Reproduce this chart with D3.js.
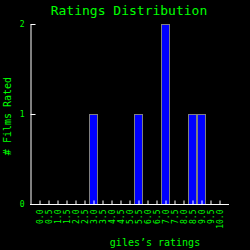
<!DOCTYPE html>
<html>
<head>
<meta charset="utf-8">
<script src="https://cdn.jsdelivr.net/npm/d3@7"></script>
<style>
  html, body { margin: 0; padding: 0; background: #000; }
  svg { display: block; }
  text { font-family: "DejaVu Sans Mono", monospace; fill: #00ff00; }
</style>
</head>
<body>
<div id="chart"></div>
<script>
// ratings on the x axis, counts per rating
var ratings = ['0.0', '0.5', '1.0', '1.5', '2.0', '2.5', '3.0', '3.5', '4.0', '4.5', '5.0',
               '5.5', '6.0', '6.5', '7.0', '7.5', '8.0', '8.5', '9.0', '9.5', '10.0'];
var counts = [0, 0, 0, 0, 0, 0, 1, 0, 0, 0, 0, 1, 0, 0, 2, 0, 0, 1, 1, 0, 0];
var yTicks = [0, 1, 2];

var width = 250, height = 250;

var svg = d3.select('#chart')
    .append('svg')
    .attr('width', width)
    .attr('height', height);

svg.append('rect')
    .attr('width', width)
    .attr('height', height)
    .attr('fill', '#000');

var x = d3.scalePoint()
    .domain(ratings)
    .range([39.5, 219.5]);

var y = d3.scaleLinear()
    .domain([0, 2])
    .range([204, 24]);

// title
svg.append('text')
    .attr('x', 129)
    .attr('y', 15)
    .attr('text-anchor', 'middle')
    .style('font-size', '13px')
    .text('Ratings Distribution');

// bars
svg.append('g')
    .selectAll('rect')
    .data(ratings.map((r, i) => ({ r: r, v: counts[i] })).filter(d => d.v > 0))
    .enter()
    .append('rect')
    .attr('x', d => x(d.r) - 4)
    .attr('y', d => y(d.v) + 0.5)
    .attr('width', 8)
    .attr('height', d => y(0) - y(d.v))
    .attr('fill', '#0000ff')
    .attr('stroke', '#808080')
    .attr('stroke-width', 1);

// x axis
var xAxis = svg.append('g')
    .attr('transform', 'translate(0,204.5)')
    .call(d3.axisBottom(x).tickSizeInner(-4).tickSizeOuter(0).tickPadding(0));
xAxis.select('.domain').remove();
xAxis.selectAll('.tick line').attr('stroke', '#fff');
xAxis.selectAll('.tick text')
    .attr('transform', 'rotate(-90)')
    .attr('text-anchor', 'end')
    .attr('x', -5)
    .attr('y', 0)
    .attr('dy', '0.35em')
    .attr('fill', '#00ff00')
    .style('font-size', '8px')
    .style('font-family', '"DejaVu Sans Mono", monospace');

svg.append('line')
    .attr('x1', 30).attr('x2', 229)
    .attr('y1', 204.5).attr('y2', 204.5)
    .attr('stroke', '#fff');

// y axis
var yAxis = svg.append('g')
    .attr('transform', 'translate(30.5,0)')
    .call(d3.axisLeft(y).tickValues(yTicks).tickFormat(d3.format('d'))
        .tickSizeInner(-5).tickSizeOuter(0).tickPadding(6));
yAxis.select('.domain').attr('stroke', '#fff');
yAxis.selectAll('.tick line').attr('stroke', '#fff');
yAxis.selectAll('.tick text')
    .attr('fill', '#00ff00')
    .style('font-size', '8px')
    .style('font-family', '"DejaVu Sans Mono", monospace');

// axis titles
svg.append('text')
    .attr('x', 155)
    .attr('y', 246)
    .attr('text-anchor', 'middle')
    .style('font-size', '10px')
    .text('giles\u2019s ratings');

svg.append('text')
    .attr('transform', 'translate(11,116) rotate(-90)')
    .attr('text-anchor', 'middle')
    .style('font-size', '10px')
    .text('# Films Rated');
</script>
</body>
</html>
